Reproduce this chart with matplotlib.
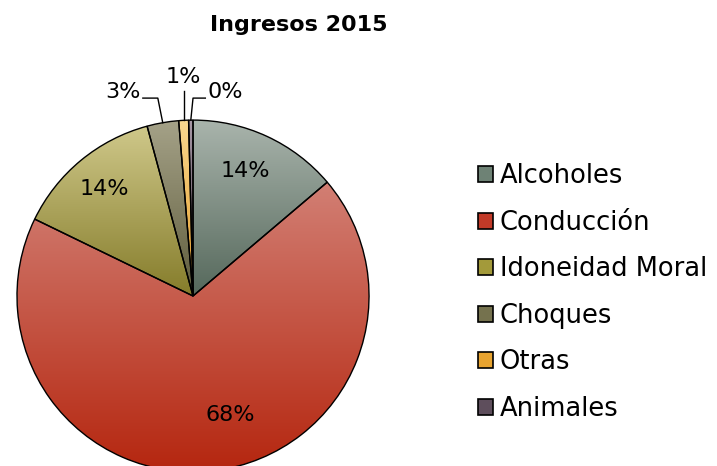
import numpy as np
import matplotlib.pyplot as plt
from matplotlib.patches import Patch
from matplotlib.colors import LinearSegmentedColormap

categorias = ['Alcoholes', 'Conducción', 'Idoneidad Moral', 'Choques', 'Otras', 'Animales']
valores = [13.8, 68.4, 13.6, 2.9, 0.9, 0.4]
etiquetas = ['14%', '68%', '14%', '3%', '1%', '0%']

# colores (arriba claro, abajo oscuro) para el degradado de cada sector
col_claro = ['#a9b4ac', '#d27f74', '#cfc88a', '#a5a288', '#f8d890', '#a898a6']
col_oscuro = ['#55685b', '#b5260f', '#857c2a', '#5f5c3c', '#e59a25', '#4a3c48']
col_legend = ['#6e8275', '#c23a28', '#a39a3a', '#75724e', '#e8a430', '#5e4e5c']

plt.rcParams['font.family'] = ['DejaVu Sans']

fig = plt.figure(figsize=(7.17, 4.66), dpi=100)
ax = fig.add_axes([0.0237, -0.0127, 0.491, 0.755])
ax.set_aspect('equal')
ax.axis('off')

wedges, _ = ax.pie(valores, startangle=90, counterclock=False, radius=1,
                   wedgeprops=dict(edgecolor='black', linewidth=1.0))

# degradado vertical dentro de cada sector
for w, c1, c2 in zip(wedges, col_claro, col_oscuro):
    w.set_facecolor('none')
    bb = w.get_path().get_extents()
    cmap = LinearSegmentedColormap.from_list('g', [c2, c1])
    grad = np.linspace(0, 1, 256).reshape(-1, 1)
    im = ax.imshow(grad, cmap=cmap, origin='lower', aspect='auto',
                   extent=[bb.x0, bb.x1, bb.y0, bb.y1], zorder=w.get_zorder() - 0.5)
    im.set_clip_path(w)

ax.set_xlim(-1, 1)
ax.set_ylim(-1, 1)

def punto(w, r, giro=0):
    th = np.deg2rad((w.theta1 + w.theta2) / 2 + giro)
    return r * np.cos(th), r * np.sin(th)

# etiquetas internas
for i, r, g in [(0, 0.77, 2), (1, 0.71, 10), (2, 0.79, 0)]:
    x, y = punto(wedges[i], r, g)
    ax.text(x, y, etiquetas[i], fontsize=16, ha='center', va='center')

# etiquetas externas con lineas guia
x, y = punto(wedges[3], 1.0)
ax.plot([x, -0.20, -0.285], [y, 1.125, 1.125], color='black', lw=1, clip_on=False)
ax.text(-0.30, 1.16, etiquetas[3], fontsize=16, ha='right', va='center')

x, y = punto(wedges[4], 1.0)
ax.plot([x, x], [y, 1.165], color='black', lw=1, clip_on=False)
ax.text(-0.057, 1.245, etiquetas[4], fontsize=16, ha='center', va='center')

x, y = punto(wedges[5], 1.0)
ax.plot([x, 0.0, 0.07], [y, 1.125, 1.125], color='black', lw=1, clip_on=False)
ax.text(0.085, 1.16, etiquetas[5], fontsize=16, ha='left', va='center')

fig.text(0.416, 0.946, 'Ingresos 2015', fontsize=16, fontweight='bold',
         ha='center', va='center')

handles = [Patch(facecolor=c, edgecolor='black', linewidth=1.2) for c in col_legend]
fig.legend(handles, categorias, loc='center left', bbox_to_anchor=(0.653, 0.372),
           frameon=False, fontsize=18.5, handlelength=0.58, handleheight=0.58,
           handletextpad=0.25, labelspacing=0.8, borderaxespad=0)

fig.savefig('out.png', dpi=100)
